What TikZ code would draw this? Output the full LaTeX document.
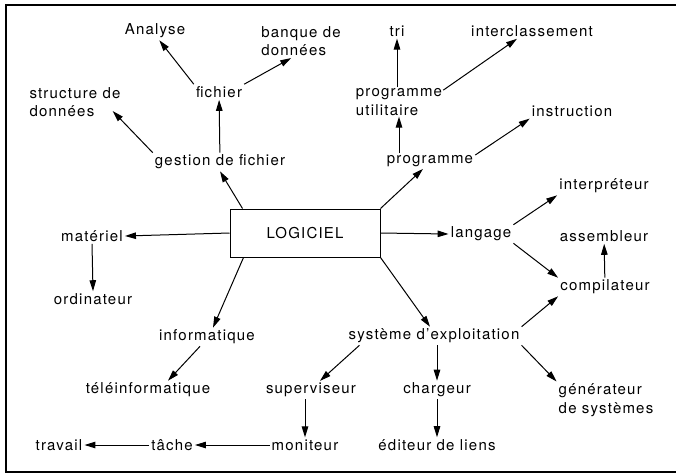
\documentclass[tikz,border=0pt]{standalone}
\usepackage{fontspec}
\setmainfont{TeX Gyre Heros}[LetterSpace=8]
\usetikzlibrary{arrows.meta}

\begin{document}
\begin{tikzpicture}[x=1pt, y=-1pt,
    every node/.style={inner sep=2pt, font=\fontsize{15}{18.5}\selectfont},
    two/.style={align=left},
    link/.style={-{Triangle[length=11pt,width=6.5pt]}, line width=1pt}]
    \useasboundingbox (0,0) rectangle (676,475);
    % frame
    \draw[line width=1.4pt] (677,5) -- (6,5) -- (6,472) -- (677,472);

    % --- centre ---
    \node[draw, line width=1pt, minimum width=150pt, minimum height=48pt] (logiciel) at (305,233) {LOGICIEL};

    % --- upper left ---
    \node (analyse) at (155,31) {Analyse};
    \node[two] (banque) at (301,41) {banque de\\donn\'ees};
    \node[two] (structure) at (75,102) {structure de\\donn\'ees};
    \node (fichier) at (219,92) {fichier};
    \node (gestion) at (220,162) {gestion de fichier};
    \draw[link] (fichier.north west) -- (analyse.-65);
    \draw[link] (fichier.north east) -- (banque.-120);
    \draw[link] (gestion.north west) -- ([shift={(-10,-8)}]structure.south east);
    \draw[link] (gestion) -- (fichier);
    \draw[link] ([xshift=13pt]logiciel.north west) -- (gestion.south);

    % --- upper right ---
    \node (tri) at (397,31) {tri};
    \node (interclass) at (532,31) {interclassement};
    \node[two, inner sep=1pt] (progutil) at (399,102) {programme\\utilitaire};
    \node (instruction) at (572,111) {instruction};
    \node (programme) at (430,161) {programme};
    \draw[link] (progutil.north -| tri.south) -- (tri.south);
    \draw[link] (progutil.15) -- ([xshift=-15pt]interclass.south);
    \draw[link] (programme.north -| progutil.south) -- (progutil.south);
    \draw[link] ([yshift=6pt]programme.east) -- (instruction.south west);
    \draw[link] (logiciel.north east) -- ([xshift=-7pt]programme.south);

    % --- langage ---
    \node (interpreteur) at (604,186) {interpr\'eteur};
    \node (langage) at (481,234) {langage};
    \node (assembleur) at (604,236) {assembleur};
    \node (compilateur) at (605,287) {compilateur};
    \draw[link] (logiciel.east) -- (langage.west);
    \draw[link] (langage.north east) -- (interpreteur.south west);
    \draw[link] (langage.south east) -- (compilateur.north west);
    \draw[link] (compilateur) -- (assembleur);

    % --- left ---
    \node (materiel) at (92,236) {mat\'eriel};
    \node (ordinateur) at (93,299) {ordinateur};
    \draw[link] (logiciel.west) -- (materiel.east);
    \draw[link] (materiel.south) -- (ordinateur.north);

    % --- lower part ---
    \node (informatique) at (207,337) {informatique};
    \node (teleinfo) at (148,390) {t\'el\'einformatique};
    \node (systeme) at (434,336) {syst\`eme d'exploitation};
    \node (superviseur) at (311,390) {superviseur};
    \node (chargeur) at (437,390) {chargeur};
    \node[two] (generateur) at (606,400) {g\'en\'erateur\\de syst\`emes};
    \node (travail) at (59,445) {travail};
    \node (tache) at (172,445) {t\^ache};
    \node (moniteur) at (305,445) {moniteur};
    \node (editeur) at (437,445) {\'editeur de liens};
    \draw[link] ([xshift=14pt]logiciel.south west) -- ([xshift=6pt]informatique.north);
    \draw[link] ([xshift=-7pt]informatique.south) -- ([xshift=20pt]teleinfo.north);
    \draw[link] (logiciel.south east) -- ([xshift=-4pt]systeme.north);
    \draw[link] ([xshift=13pt]systeme.south west) -- ([xshift=9pt]superviseur.north);
    \draw[link] (systeme.south -| chargeur.north) -- (chargeur.north);
    \draw[link] (systeme.north east) -- (compilateur.south west);
    \draw[link] (systeme.south east) -- (generateur.north west);
    \draw[link] (chargeur) -- (editeur);
    \draw[link] (superviseur.south -| moniteur.north) -- (moniteur.north);
    \draw[link] (moniteur) -- (tache);
    \draw[link] (tache) -- (travail);
\end{tikzpicture}
\end{document}
